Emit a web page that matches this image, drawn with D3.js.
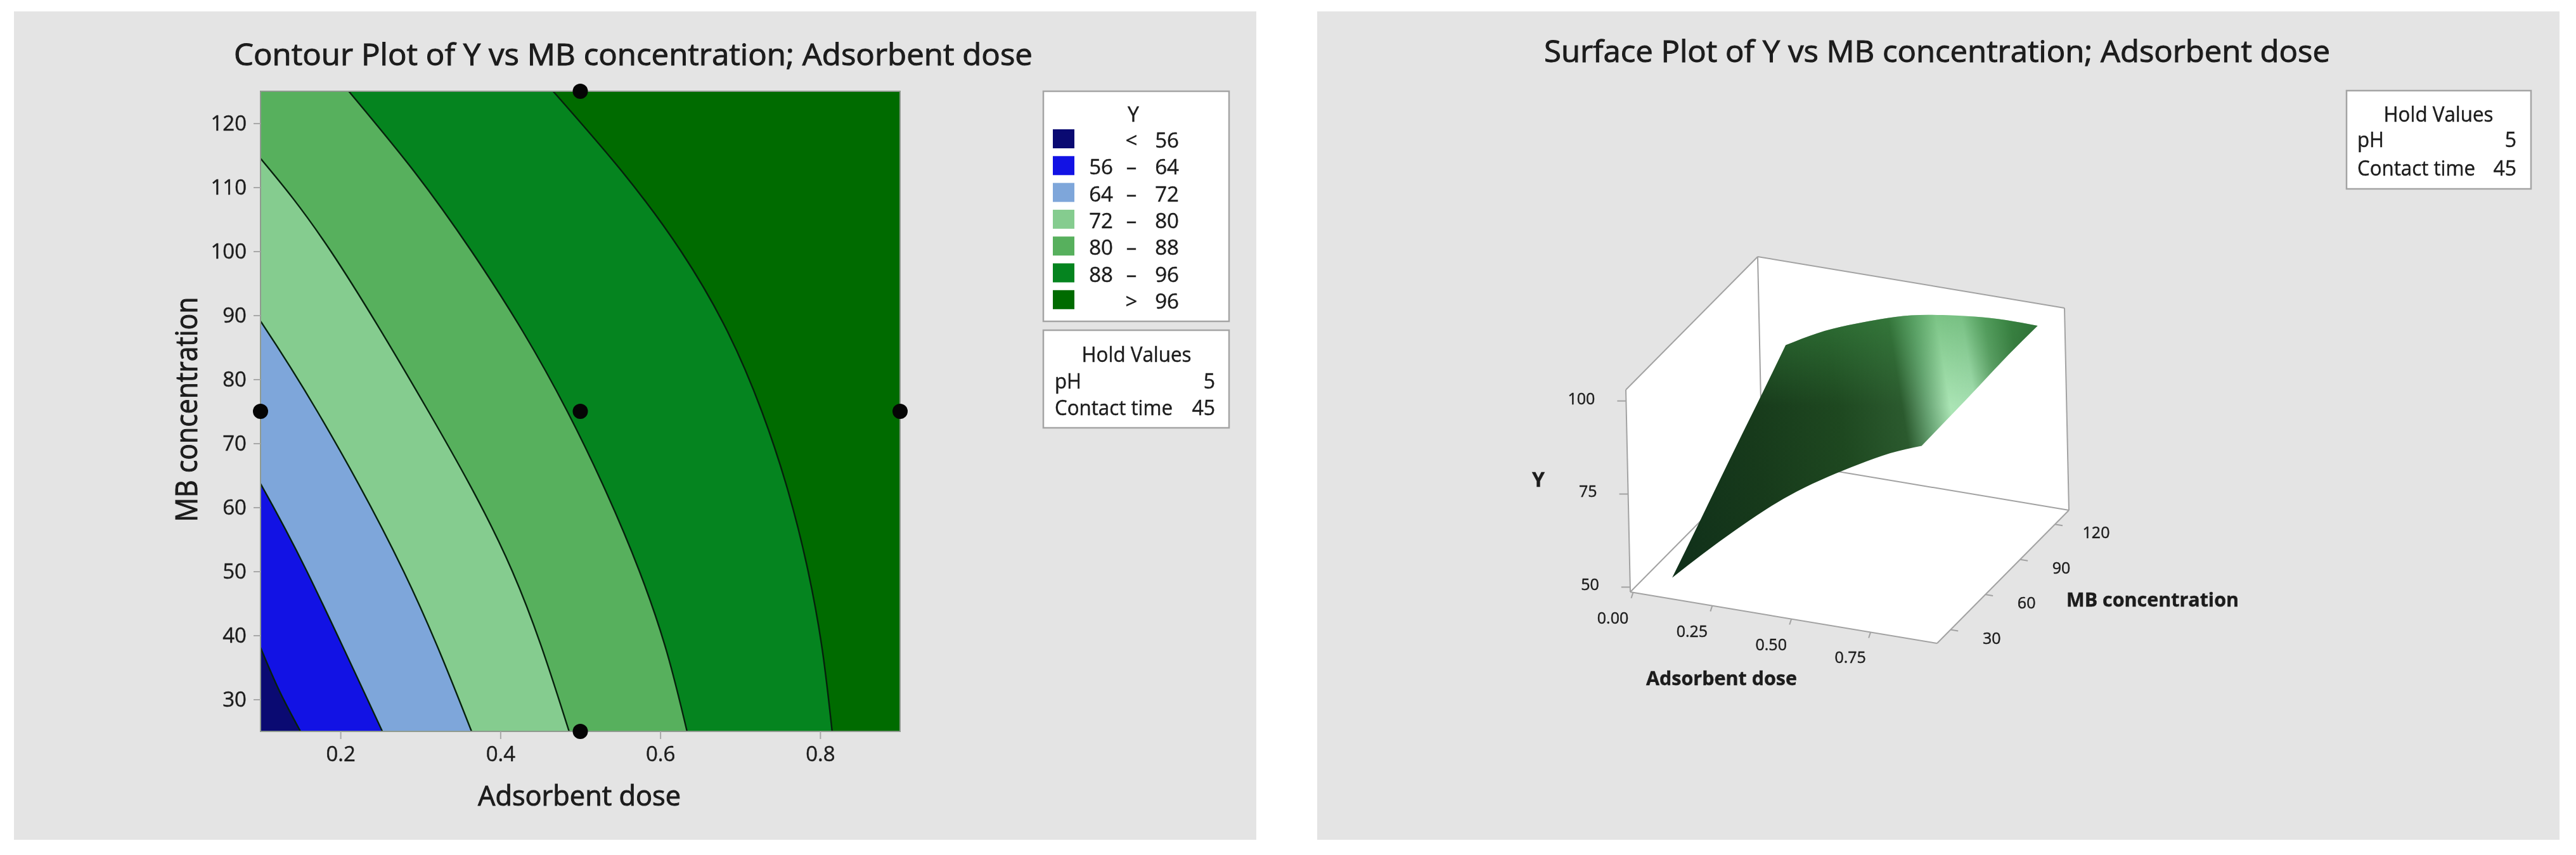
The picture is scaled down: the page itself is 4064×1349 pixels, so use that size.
<!DOCTYPE html>
<html><head><meta charset="utf-8">
<script src="https://cdn.jsdelivr.net/npm/d3@7"></script>
<style>html,body{margin:0;background:#fff}svg{display:block}text{font-family:"Open Sans",sans-serif;fill:#1c1c1c;stroke:#1c1c1c;stroke-width:.45px;filter:blur(.55px)}</style>
</head><body><svg id="c" width="4064" height="1349"></svg>
<script>
// ---- data ----
const contourTitle = "Contour Plot of Y vs MB concentration; Adsorbent dose";
const surfaceTitle = "Surface Plot of Y vs MB concentration; Adsorbent dose";
const xName = "Adsorbent dose", yName = "MB concentration", zName = "Y";
const xTicks = [0.2, 0.4, 0.6, 0.8];
const yTicks = [30, 40, 50, 60, 70, 80, 90, 100, 110, 120];
const legendLow = ["", "56", "64", "72", "80", "88", ""];
const legendOp = ["<", "–", "–", "–", "–", "–", ">"];
const legendHigh = ["56", "64", "72", "80", "88", "96", "96"];
const legendColors = ["#0a0a72", "#1212e4", "#7ea6da", "#85cc8f", "#57b05d", "#05841f", "#006b00"];
const holdNames = ["pH", "Contact time"];
const holdValues = ["5", "45"];
const designPoints = [[0.5, 125], [0.5, 75], [0.5, 25], [0.1, 75], [0.9, 75]];
// contour lines as [dose, concentration]
const line56 = [[.1,38.1],[.1237,31.3],[.15,25]];
const line64 = [[.1,63.7],[.158,50],[.2524,25]];
const line72 = [[.1,89.1],[.171,75],[.279,50],[.364,25]];
const line80 = [[.1,114.5],[.188,100],[.31,75],[.415,50],[.486,25]];
const line88 = [[.2104,125],[.292,112.5],[.364,100],[.428,87.5],[.4837,75],[.532,62.5],[.574,50],[.608,37.5],[.6335,25]];
const line96 = [[.466,125],[.552,112.5],[.626,100],[.684,87.5],[.727,75],[.76,62.5],[.785,50],[.803,37.5],[.815,25]];
// surface: Y on a dose x concentration grid
const gridDose = [.1,.2,.3,.4,.5,.6,.7,.8,.9];
const gridConc = [25,50,75,100,125];
const gridY25  = [52,59.9,67.4,74.5,80.8,86.2,91,95.4,98.8];
const gridY50  = [59.7,66.8,73.3,79,84.2,89,92.9,96.5,99];
const gridY75  = [67.6,73.6,79.4,84.1,88.5,91.9,95.1,97.6,99.3];
const gridY100 = [75.2,80.6,85.9,89.1,92.1,95.1,97.2,98.8,99.7];
const gridY125 = [83,87.6,91.2,94.2,96.7,98.2,99.2,99.7,99.6];
const doseTicks3d = [0, .25, .5, .75];
const concTicks3d = [30, 60, 90, 120];
const yTicks3d = [50, 75, 100];
// ---- drawing ----
const svg = d3.select("#c");
function label(g, s, x, y, o = {}) {
  const t = g.append("text").attr("x", x).attr("y", y).text(s)
    .attr("font-size", o.size || 32).attr("text-anchor", o.anchor || "start");
  if (o.len) t.attr("textLength", o.len).attr("lengthAdjust", "spacingAndGlyphs");
  if (o.weight) t.attr("font-weight", o.weight);
  if (o.rot) t.attr("transform", `rotate(${o.rot} ${x} ${y})`);
  return t;
}
function box(x, y, w, h) {
  svg.append("rect").attr("x", x).attr("y", y).attr("width", w).attr("height", h)
    .attr("fill", "#fff").attr("stroke", "#a4a4a4").attr("stroke-width", 2.5);
}
[[22, 1960], [2078, 1960]].forEach(([x, w]) => svg.append("rect").attr("x", x).attr("y", 18).attr("width", w).attr("height", 1307).attr("fill", "#e4e4e4"));

// --- contour panel
const x = d3.scaleLinear([0.1, 0.9], [411, 1420]);
const y = d3.scaleLinear([25, 125], [1154, 144]);
const curve = d3.line().x(d => x(d[0])).y(d => y(d[1])).curve(d3.curveNatural);
svg.append("rect").attr("x", x(.1)).attr("y", y(125)).attr("width", x(.9) - x(.1)).attr("height", y(25) - y(125)).attr("fill", legendColors[6]);
const bands = [[line96, 5], [line88, 4], [line80, 3], [line72, 2], [line64, 1], [line56, 0]];
bands.forEach(([pts, c]) => {
  const corners = [[.1, 25]];
  if (pts[0][1] === 125) corners.push([.1, 125]);
  const tail = corners.map(p => `L${x(p[0])},${y(p[1])}`).join("");
  svg.append("path").attr("d", curve(pts) + tail + "Z").attr("fill", legendColors[c]);
});
bands.forEach(([pts]) => svg.append("path").attr("d", curve(pts)).attr("fill", "none").attr("stroke", "#06200c").attr("stroke-width", 2.4));
svg.append("rect").attr("x", x(.1)).attr("y", y(125)).attr("width", x(.9) - x(.1)).attr("height", y(25) - y(125)).attr("fill", "none").attr("stroke", "#8f9a8f").attr("stroke-width", 2);
function styleAxis(g) {
  g.select(".domain").remove();
  g.selectAll("line").attr("stroke", "#a8a8a8").attr("stroke-width", 2);
  g.selectAll("text").attr("font-size", 33).attr("font-family", '"Open Sans",sans-serif').attr("fill", "#1c1c1c");
}
svg.append("g").attr("transform", `translate(0,${y(25)})`)
  .call(d3.axisBottom(x).tickValues(xTicks).tickFormat(d3.format(".1f")).tickSize(12).tickPadding(12)).call(styleAxis);
svg.append("g").attr("transform", `translate(${x(.1)},0)`)
  .call(d3.axisLeft(y).tickValues(yTicks).tickSize(11).tickPadding(11)).call(styleAxis);
svg.selectAll(".pt").data(designPoints).join("circle").attr("class", "pt")
  .attr("cx", d => x(d[0])).attr("cy", d => y(d[1])).attr("r", 12).attr("fill", "#050505");
label(svg, contourTitle, 999, 103, { size: 48, anchor: "middle", len: 1260 }).style("stroke-width", "1px");
label(svg, xName, 914, 1271, { size: 43, anchor: "middle", len: 320 }).style("stroke-width", "1px");
label(svg, yName, 311, 646, { size: 47, anchor: "middle", len: 355, rot: -90 }).style("stroke-width", "1px");

// legend
box(1646, 144, 293, 363);
label(svg, zName, 1788, 192, { size: 32, anchor: "middle" });
legendColors.forEach((c, i) => {
  const top = 204 + i * 42.3, base = top + 29;
  svg.append("rect").attr("x", 1661).attr("y", top).attr("width", 34).attr("height", 30).attr("fill", c);
  label(svg, legendLow[i], 1756, base, { size: 33, anchor: "end" });
  label(svg, legendOp[i], 1785, base, { size: 33, anchor: "middle" });
  label(svg, legendHigh[i], 1860, base, { size: 33, anchor: "end" });
});
function hold(bx, by, w, h, titleX, nameX, valX, rows) {
  box(bx, by, w, h);
  label(svg, "Hold Values", titleX, rows[0], { size: 32, anchor: "middle", len: 173 });
  holdNames.forEach((n, i) => {
    label(svg, n, nameX, rows[i + 1], { size: 32, len: i ? 186 : 42 });
    label(svg, holdValues[i], valX, rows[i + 1], { size: 32, anchor: "end" });
  });
}
hold(1646, 521, 293, 154, 1793, 1664, 1917, [571, 613, 655]);

// --- surface panel
label(svg, surfaceTitle, 3056, 98, { size: 48, anchor: "middle", len: 1240 }).style("stroke-width", "1px");
hold(3702, 143, 291, 155, 3847, 3719, 3970, [192, 232, 277]);

const tx = d3.scaleLinear([-0.009, 0.96], [0, 1]);
const tc = d3.scaleLinear([18.4, 132], [0, 1]);
const tz = d3.scaleLinear([48.7, 103], [0, 1]);
const origin = [2572, 934], ex = [484, 81], ec = [208, -210], ez = [-7, -319];
function project(d, c, z) {
  const a = tx(d), b = tc(c), h = tz(z);
  return [origin[0] + a * ex[0] + b * ec[0] + h * ez[0], origin[1] + a * ex[1] + b * ec[1] + h * ez[1]];
}
const [d0, d1] = tx.domain(), [c0, c1] = tc.domain(), [z0, z1] = tz.domain();
const A = project(d0, c0, z0), B = project(d1, c0, z0), C = project(d1, c1, z0), D = project(d0, c1, z0),
      E = project(d0, c0, z1), F = project(d0, c1, z1), G = project(d1, c1, z1);
const poly = d3.line();
[[A, E, F, D], [D, F, G, C], [A, B, C, D]].forEach(p => svg.append("path").attr("d", poly(p) + "Z").attr("fill", "#fff"));
[[A, E], [E, F], [F, G], [G, C], [C, B], [B, A], [F, D], [D, C], [D, A]].forEach(p =>
  svg.append("path").attr("d", poly(p)).attr("fill", "none").attr("stroke", "#a2a2a2").attr("stroke-width", 2));

const grid = [gridY25, gridY50, gridY75, gridY100, gridY125];
const edgeCurve = d3.line().curve(d3.curveNatural);
const low = gridDose.map((d, i) => project(d, gridConc[0], grid[0][i]));
const high = gridDose.map((d, i) => project(d, gridConc[4], grid[4][i])).reverse();
const right = gridConc.map((c, j) => project(gridDose[8], c, grid[j][8]));
const left = gridConc.map((c, j) => project(gridDose[0], c, grid[j][0])).reverse();
const tailOf = s => s.replace(/^M[^CL]*/, "");
const surfacePath = edgeCurve(low) + tailOf(edgeCurve(right)) + tailOf(edgeCurve(high)) + tailOf(edgeCurve(left)) + "Z";

const defs = svg.append("defs");
const u = [0.987, -0.16], pMin = 2461, pMax = 3096;
const shade = defs.append("linearGradient").attr("id", "shade").attr("gradientUnits", "userSpaceOnUse")
  .attr("x1", pMin * u[0]).attr("y1", pMin * u[1]).attr("x2", pMax * u[0]).attr("y2", pMax * u[1]);
[[2461, "#10301a"], [2620, "#173a1b"], [2760, "#1e4820"], [2860, "#2b5a2e"], [2900, "#6aa676"], [2935, "#aae4b4"],
 [2975, "#a4deb0"], [3010, "#5f9e68"], [3050, "#33703a"], [3096, "#24562a"]].forEach(([p, col]) =>
  shade.append("stop").attr("offset", (p - pMin) / (pMax - pMin)).attr("stop-color", col));
const glow = defs.append("linearGradient").attr("id", "glow").attr("gradientUnits", "userSpaceOnUse")
  .attr("x1", 0).attr("y1", 495).attr("x2", 0).attr("y2", 640);
glow.append("stop").attr("offset", 0).attr("stop-color", "#3f9a4a").attr("stop-opacity", .45);
glow.append("stop").attr("offset", 1).attr("stop-color", "#3f9a4a").attr("stop-opacity", 0);
svg.append("path").attr("d", surfacePath).attr("fill", "url(#shade)");
svg.append("path").attr("d", surfacePath).attr("fill", "url(#glow)");

// 3D ticks and labels
doseTicks3d.forEach(d => {
  const p = project(d, c0, z0);
  svg.append("path").attr("d", poly([p, [p[0] - 3, p[1] + 9]])).attr("stroke", "#a2a2a2").attr("stroke-width", 2);
  label(svg, d3.format(".2f")(d), p[0] - 32, p[1] + 49, { size: 25, anchor: "middle" });
});
concTicks3d.forEach(c => {
  const p = project(d1, c, z0);
  svg.append("path").attr("d", poly([p, [p[0] + 12, p[1] + 2]])).attr("stroke", "#a2a2a2").attr("stroke-width", 2);
  label(svg, c, p[0] + 65, p[1] + 22, { size: 25, anchor: "middle" });
});
yTicks3d.forEach(v => {
  const p = project(d0, c0, v);
  svg.append("path").attr("d", poly([p, [p[0] - 14, p[1]]])).attr("stroke", "#a2a2a2").attr("stroke-width", 2);
  label(svg, v, p[0] - 49, p[1] + 5, { size: 25, anchor: "end" });
});
label(svg, zName, 2427, 768, { size: 32, anchor: "middle", weight: 700 });
label(svg, xName, 2716, 1081, { size: 31, anchor: "middle", weight: 700, len: 238 });
label(svg, yName, 3260, 957, { size: 31, weight: 700, len: 272 });
</script></body></html>
